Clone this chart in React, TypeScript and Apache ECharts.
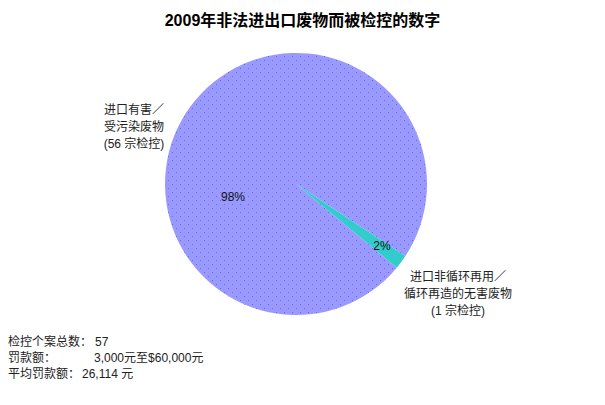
import { FC, useEffect, useRef } from "react";
import * as echarts from "echarts";

// 图表数据
const title = "2009年非法进出口废物而被检控的数字";
const sliceNames = ["进口有害／\n受污染废物\n(56 宗检控)", "进口非循环再用／\n循环再造的无害废物\n(1 宗检控)"];
const sliceValues = [56, 1];
const sliceColors = ["#9999ff", "#33cccc"];
const noteLabels = ["检控个案总数：", "罚款额：", "平均罚款额："];
const noteValues = ["57", "3,000元至$60,000元", "26,114 元"];

const FONT = "'Liberation Sans', Arial, 'Noto Sans CJK SC', sans-serif";

const App: FC = () => {
    const chartRef = useRef<HTMLDivElement>(null);

    useEffect(() => {
        if (!chartRef.current) return;
        const chart = echarts.init(chartRef.current, undefined, { renderer: "svg" });
        const total = sliceValues.reduce((a, b) => a + b, 0);
        const pct = sliceValues.map(v => Math.round((v / total) * 100) + "%");

        // 外部标签、内部百分比以及底部说明的位置
        const outerPos = [
            { x: 134, y: 127, align: "center" },
            { x: 458, y: 294, align: "center" },
        ];
        const innerPos = [
            { x: 233, y: 197 },
            { x: 382, y: 246 },
        ];
        const noteValueX = [95, 94, 82];

        const graphic: any[] = [];
        sliceNames.forEach((name, i) => {
            graphic.push({
                type: "text",
                z: 100,
                x: outerPos[i].x,
                y: outerPos[i].y,
                style: {
                    text: name,
                    font: `12px ${FONT}`,
                    fill: "#222",
                    align: outerPos[i].align,
                    verticalAlign: "middle",
                    lineHeight: 17,
                },
            });
            graphic.push({
                type: "text",
                z: 100,
                x: innerPos[i].x,
                y: innerPos[i].y,
                style: {
                    text: pct[i],
                    font: `12px ${FONT}`,
                    fill: "#111",
                    align: "center",
                    verticalAlign: "middle",
                },
            });
        });
        noteLabels.forEach((label, i) => {
            graphic.push({
                type: "text",
                z: 100,
                x: 8,
                y: 342 + i * 16,
                style: { text: label, font: `12px ${FONT}`, fill: "#222", verticalAlign: "middle" },
            });
            graphic.push({
                type: "text",
                z: 100,
                x: noteValueX[i],
                y: 342 + i * 16,
                style: { text: noteValues[i], font: `12px ${FONT}`, fill: "#222", verticalAlign: "middle" },
            });
        });

        chart.setOption({
            animation: false,
            backgroundColor: "#fff",
            title: {
                text: title,
                left: "center",
                top: 7,
                textStyle: { fontFamily: FONT, fontSize: 16, fontWeight: "bold", color: "#000" },
            },
            series: [
                {
                    type: "pie",
                    center: [296, 184],
                    radius: 131,
                    startAngle: -39.7,
                    clockwise: true,
                    label: { show: false },
                    labelLine: { show: false },
                    emphasis: { disabled: true },
                    data: sliceValues.map((v, i) => ({
                        name: sliceNames[i],
                        value: v,
                        itemStyle: {
                            color: sliceColors[i],
                            decal: i === 0 ? {
                                symbol: "rect",
                                symbolSize: 1,
                                color: "#6666e6",
                                dashArrayX: [[1, 7], [0, 4, 1, 3]],
                                dashArrayY: [1, 3],
                            } : "none",
                        },
                    })),
                },
            ],
            graphic,
        });

        return () => {
            chart.dispose();
        };
    }, []);

    return (
        <div ref={chartRef} style={{ position: "fixed", left: 0, top: 0, width: 605, height: 405 }} />
    );
};

export default App;
